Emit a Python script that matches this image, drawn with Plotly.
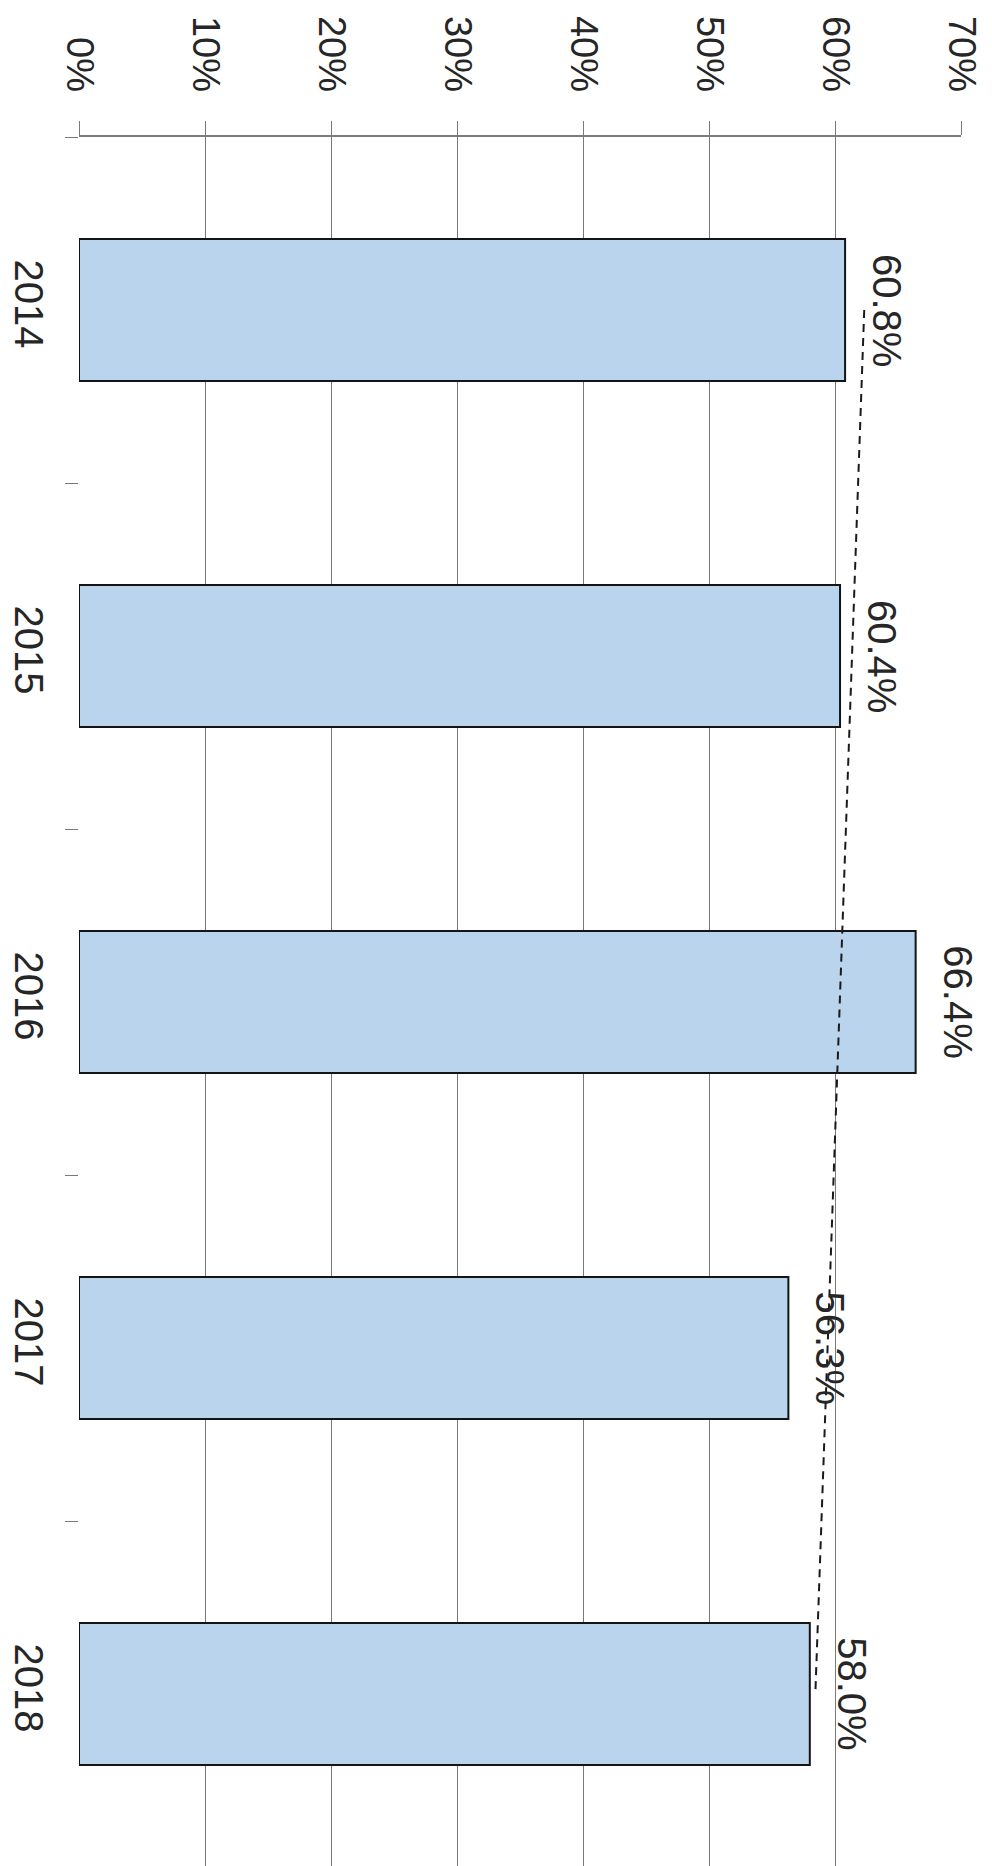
import numpy as np
import plotly.graph_objects as go

years = ["2014", "2015", "2016", "2017", "2018"]
values = [60.8, 60.4, 66.4, 56.3, 58.0]
labels = ["60.8%", "60.4%", "66.4%", "56.3%", "58.0%"]
tick_vals = [0, 10, 20, 30, 40, 50, 60, 70]
tick_text = ["0%", "10%", "20%", "30%", "40%", "50%", "60%", "70%"]

# linear trendline (least squares over category index)
idx = np.arange(len(values))
slope, intercept = np.polyfit(idx, values, 1)
trend = list(slope * idx + intercept)

FONT = "Liberation Sans, Arial, sans-serif"
TXT = "#262626"
GRID = "#7a7a7a"

fig = go.Figure()
fig.add_trace(go.Bar(
    x=values, y=years, orientation="h", width=0.41,
    marker=dict(color="#bbd4ee", line=dict(color="#141414", width=2)),
    hoverinfo="x+y",
))
fig.add_trace(go.Scatter(
    x=trend, y=years, mode="lines",
    line=dict(color="#1a1a1a", width=2, dash="8px,6px"),
    hoverinfo="skip",
))

for i, (xv, t) in enumerate(zip(values, labels)):
    fig.add_annotation(
        x=xv, y=i, text=t, textangle=90, showarrow=False,
        xanchor="left", yanchor="middle", xshift=18,
        font=dict(family=FONT, size=40, color=TXT),
    )

fig.update_layout(
    width=992, height=1859,
    margin=dict(l=71, r=39, t=129, b=0, pad=0),
    paper_bgcolor="white", plot_bgcolor="white",
    showlegend=False,
    bargap=0.59,
    xaxis=dict(
        side="top", range=[0, 70], tickvals=tick_vals, ticktext=tick_text,
        tickangle=90, tickfont=dict(family=FONT, size=38, color=TXT),
        showgrid=True, gridcolor=GRID, gridwidth=1.3,
        showline=True, linecolor=GRID, linewidth=1.5,
        ticks="outside", ticklen=14, tickcolor=GRID, tickwidth=1.3,
        ticklabelstandoff=16, zeroline=False, fixedrange=True, automargin=False,
    ),
    yaxis=dict(
        type="category", range=[len(years) - 0.5, -0.5], autorange=False,
        tickangle=90, tickfont=dict(family=FONT, size=40, color=TXT),
        tickson="boundaries", ticks="outside", ticklen=13, tickcolor=GRID, tickwidth=1.3,
        showgrid=False, showline=False, zeroline=False,
        ticklabelstandoff=23, fixedrange=True, automargin=False,
    ),
)

fig.write_html("out.html")
